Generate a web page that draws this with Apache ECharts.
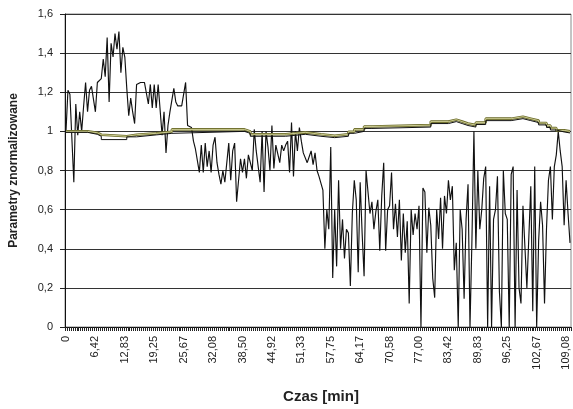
<!DOCTYPE html>
<html>
<head>
<meta charset="utf-8">
<script src="https://cdn.jsdelivr.net/npm/echarts@6/dist/echarts.min.js"></script>
<style>
  html, body { margin: 0; padding: 0; background: #fff; }
  #chart { width: 573px; height: 409px; }
</style>
</head>
<body>
<div id="chart"></div>
<script>
// Sampling: 258 samples, one every 109.08/255 min
const sampleCount = 258;
const timeStep = 109.0833 / 255;
const labelEvery = 15;

// Labels printed under the time axis (every 15th sample)
const xTickLabels = ['0', '6,42', '12,83', '19,25', '25,67', '32,08', '38,50', '44,92', '51,33',
  '57,75', '64,17', '70,58', '77,00', '83,42', '89,83', '96,25', '102,67', '109,08'];

// Value axis
const yMin = 0, yMax = 1.6, yStep = 0.2;

// Fast-varying normalised parameter, one value per sample
const signal = [
  1.0, 1.21, 1.19, 1.2, 0.74, 1.14, 0.98, 1.1, 1.0, 1.13,
  1.25, 1.1, 1.21, 1.23, 1.23, 1.1, 1.25, 1.25, 1.27, 1.37,
  1.28, 1.48, 1.15, 1.45, 1.38, 1.5, 1.42, 1.51, 1.3, 1.43,
  1.38, 1.22, 1.08, 1.17, 1.1, 1.04, 1.24, 1.25, 1.25, 1.25,
  1.25, 1.25, 1.14, 1.24, 1.12, 1.24, 1.12, 1.24, 1.25, 0.98,
  1.1, 0.89, 1.03, 1.1, 1.1, 1.22, 1.15, 1.13, 1.13, 1.13,
  1.13, 1.25, 1.03, 1.02, 1.02, 0.95, 0.91, 0.92, 0.79, 0.93,
  0.79, 0.94, 0.82, 0.9, 0.79, 0.93, 0.97, 0.84, 0.78, 0.73,
  0.8, 0.74, 0.73, 0.94, 0.75, 0.9, 0.94, 0.64, 0.63, 0.86,
  0.79, 0.86, 0.76, 0.88, 0.88, 0.8, 1.01, 0.9, 0.91, 0.74,
  1.0, 0.69, 1.0, 0.92, 0.8, 1.03, 0.81, 0.93, 0.92, 0.84,
  0.93, 0.9, 0.93, 0.95, 0.79, 1.045, 0.77, 1.0, 0.9, 1.02,
  0.95, 0.89, 0.9, 0.84, 0.87, 0.9, 0.83, 0.89, 0.8, 0.77,
  0.78, 0.7, 0.4, 0.6, 0.5, 0.92, 0.25, 0.6, 0.31, 0.75,
  0.4, 0.55, 0.35, 0.5, 0.48, 0.21, 0.58, 0.75, 0.65, 0.28,
  0.74, 0.48, 0.26, 0.8, 0.69, 0.58, 0.64, 0.5, 0.59, 0.65,
  0.39, 0.67, 0.84, 0.39, 0.6, 0.62, 0.79, 0.5, 0.63, 0.46,
  0.65, 0.34, 0.58, 0.38, 0.54, 0.12, 0.6, 0.47, 0.58, 0.5,
  0.62, 0.0, 0.71, 0.69, 0.38, 0.61, 0.52, 0.25, 0.15, 0.6,
  0.45, 0.66, 0.4, 0.67, 0.58, 0.75, 0.65, 0.72, 0.29, 0.43,
  0.0, 0.6, 0.5, 0.145, 0.55, 0.73, 0.0, 0.45, 1.0, 0.4,
  0.8, 0.5, 0.6, 0.76, 0.82, 0.0, 0.72, 0.0, 0.55, 0.6,
  0.77, 0.18, 0.0, 0.8, 0.58, 0.55, 0.0, 0.78, 0.82, 0.0,
  0.7, 0.2, 0.12, 0.62, 0.41, 0.2, 0.2, 0.72, 0.08, 0.82,
  0.0, 0.44, 0.64, 0.52, 0.12, 0.5, 0.75, 0.82, 0.55, 0.82,
  0.88, 1.0, 0.9, 0.82, 0.52, 0.75, 0.58, 0.43
];

// Slow parameters: [sample index, value] at each level change
const oliveSteps = [
  [0, 1.0], [11, 0.993], [16, 0.983], [18, 0.975], [31, 0.983], [36, 0.99], [46, 0.998],
  [54, 1.01], [91, 1.0], [94, 0.985], [112, 0.995], [122, 0.985], [130, 0.978], [137, 0.985],
  [144, 0.998], [147, 1.01], [152, 1.025], [156, 1.032], [186, 1.05], [195, 1.06], [199, 1.05],
  [202, 1.04], [205, 1.032], [209, 1.045], [214, 1.065], [227, 1.075], [233, 1.065],
  [237, 1.055], [241, 1.043], [245, 1.03], [247, 1.017], [250, 1.005], [254, 1.0], [257, 1.0]
];
const blackSteps = [
  [0, 0.995], [11, 0.985], [16, 0.975], [18, 0.958], [31, 0.972], [36, 0.982], [46, 0.99],
  [54, 1.0], [91, 0.99], [94, 0.975], [112, 0.985], [122, 0.975], [130, 0.968], [137, 0.975],
  [144, 0.99], [147, 1.0], [152, 1.015], [156, 1.022], [186, 1.04], [195, 1.05], [199, 1.04],
  [202, 1.03], [205, 1.022], [209, 1.035], [214, 1.055], [227, 1.065], [233, 1.055],
  [237, 1.045], [241, 1.033], [245, 1.02], [247, 1.007], [250, 0.997], [254, 0.992], [257, 0.992]
];

const categories = [];
for (let i = 0; i < sampleCount; i++) categories.push((i * timeStep).toFixed(2));

const font = 'Liberation Sans, Arial, sans-serif';
const chart = echarts.init(document.getElementById('chart'), null, { renderer: 'canvas' });

chart.setOption({
  animation: false,
  backgroundColor: '#fff',
  grid: {
    left: 65, right: 2, top: 14, bottom: 75,
    show: true, borderColor: '#8a8a8a', borderWidth: 1, backgroundColor: 'transparent'
  },
  xAxis: {
    type: 'category',
    data: categories,
    boundaryGap: true,
    name: 'Czas [min]',
    nameLocation: 'middle',
    nameGap: 62,
    nameTextStyle: { fontFamily: font, fontSize: 15, fontWeight: 'bold', color: '#222', padding: [0, 0, 0, 6] },
    axisLine: { lineStyle: { color: '#111', width: 1 } },
    axisTick: { show: true, interval: 0, length: 4, lineStyle: { color: '#222' } },
    axisLabel: {
      interval: function (i) { return i % labelEvery === 0 && i / labelEvery < xTickLabels.length; },
      formatter: function (v, i) { return xTickLabels[i / labelEvery] || ''; },
      rotate: 90,
      margin: 9,
      fontFamily: font, fontSize: 11, color: '#222'
    },
    splitLine: { show: false }
  },
  yAxis: {
    type: 'value',
    min: yMin, max: yMax, interval: yStep,
    name: 'Parametry znormalizowane',
    nameLocation: 'middle',
    nameGap: 45,
    nameTextStyle: { fontFamily: font, fontSize: 12, fontWeight: 'bold', color: '#222' },
    axisLine: { show: true, lineStyle: { color: '#111', width: 1 } },
    axisTick: { show: true, length: 5, lineStyle: { color: '#222' } },
    axisLabel: {
      margin: 12,
      fontFamily: font, fontSize: 11, color: '#222',
      formatter: function (v) { return String(+v.toFixed(1)).replace('.', ','); }
    },
    splitLine: { show: true, lineStyle: { color: '#333', width: 1 } }
  },
  series: [
    {
      name: 'signal', type: 'line', data: signal, symbol: 'none',
      lineStyle: { color: '#111', width: 1.15 }, z: 2
    },
    {
      name: 'olive', type: 'line', data: oliveSteps, step: 'end', symbol: 'none',
      lineStyle: { color: '#6a6a28', width: 2.6 }, z: 3
    },
    {
      name: 'oliveCore', type: 'line', data: oliveSteps, step: 'end', symbol: 'none',
      lineStyle: { color: '#e6e6ae', width: 0.8 }, z: 4
    },
    {
      name: 'black', type: 'line', data: blackSteps, step: 'end', symbol: 'none',
      lineStyle: { color: '#111', width: 1 }, z: 5
    }
  ]
});
</script>
</body>
</html>
